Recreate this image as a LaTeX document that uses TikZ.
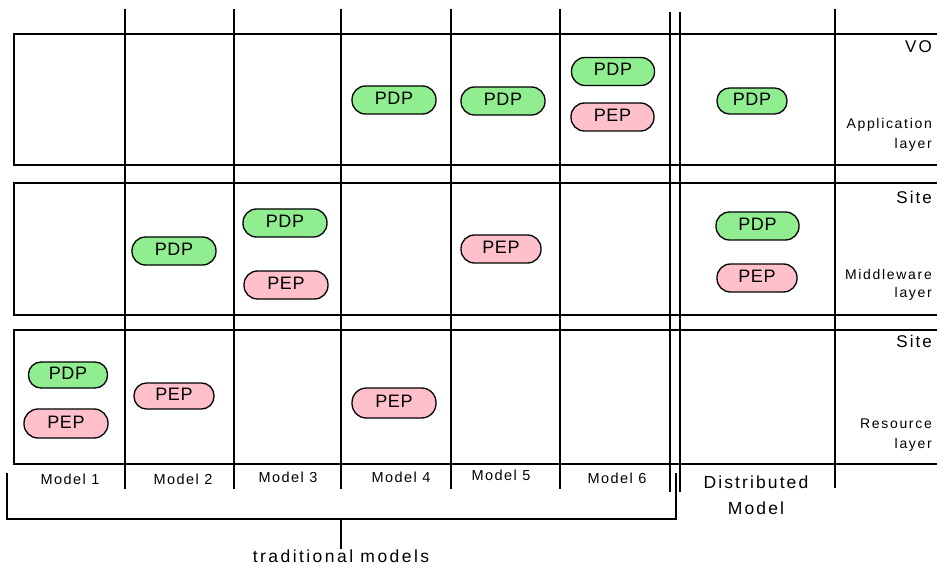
\documentclass[tikz,border=0pt]{standalone}
\usepackage{fontspec}
\setmainfont{Liberation Sans}
\definecolor{pdpgreen}{RGB}{144,238,144}
\definecolor{peppink}{RGB}{255,192,203}
\begin{document}
\begin{tikzpicture}[x=1pt,y=-1pt,
  vline/.style={line width=2pt},
  hline/.style={line width=2.3pt, line join=miter},
  bracket/.style={line width=2pt},
  pill/.style={draw, line width=1.3pt, rounded corners=13.5pt, minimum width=84pt, minimum height=28pt,
    inner sep=0pt, text height=13pt, text depth=4pt, font=\fontsize{18}{18}\selectfont\addfontfeature{LetterSpace=3}},
  pdp/.style={pill, fill=pdpgreen},
  pep/.style={pill, fill=peppink},
  small/.style={inner sep=0pt, font=\fontsize{14}{14}\selectfont\addfontfeature{LetterSpace=12}},
  big/.style={inner sep=0pt, font=\fontsize{17}{17}\selectfont\addfontfeature{LetterSpace=12}},
  model/.style={inner sep=0pt, font=\fontsize{14.5}{14.5}\selectfont\addfontfeature{LetterSpace=10}},
]
\useasboundingbox (0,0) rectangle (937,572);

% row boxes
\draw[hline] (937,34) -- (14,34) -- (14,165) -- (937,165);
\draw[hline] (937,183) -- (14,183) -- (14,315) -- (937,315);
\draw[hline] (937,330) -- (14,330) -- (14,464) -- (937,464);

% vertical column lines
\foreach \x in {125,234,341,451,560} \draw[vline] (\x,9) -- (\x,489);
\draw[vline] (670,12) -- (670,492);
\draw[vline] (680,12) -- (680,492);
\draw[vline] (835,9) -- (835,488);

% bracket
\coordinate (bl) at (7,473);
\coordinate (blc) at (7,519);
\coordinate (brc) at (676,519);
\coordinate (br) at (676,473);
\coordinate (bm) at (341,519);
\coordinate (bt) at (341,549);
\draw[bracket] (bl) -- (blc) -- (brc) -- (br);
\draw[bracket] (bm) -- (bt);
\node[big, anchor=north, font=\fontsize{17.5}{17.5}\selectfont\addfontfeature{LetterSpace=14}] (trad) at (341,550) {traditional models};

% row 1 : application layer
\node[pdp] (p4a) at (394,100) {PDP};
\node[pdp] (p5a) at (503,101) {PDP};
\node[pdp, minimum width=83pt] (p6a) at (613,71.5) {PDP};
\node[pep, minimum width=83pt] (e6a) at (612.5,117) {PEP};
\node[pdp, minimum width=70pt, minimum height=26pt, rounded corners=12.5pt] (pda) at (752,101) {PDP};

% row 2 : middleware layer
\node[pdp] (p2m) at (174,251) {PDP};
\node[pdp] (p3m) at (285,223) {PDP};
\node[pep] (e3m) at (286,285) {PEP};
\node[pep, minimum width=80pt] (e5m) at (501,249) {PEP};
\node[pdp, minimum width=83pt] (pdm) at (757.5,226) {PDP};
\node[pep, minimum width=80pt] (edm) at (757,278) {PEP};

% row 3 : resource layer
\node[pdp, minimum width=79pt, minimum height=26pt, rounded corners=12.5pt] (p1r) at (68,375) {PDP};
\node[pep, minimum height=29pt, rounded corners=14pt] (e1r) at (66,423.5) {PEP};
\node[pep, minimum width=80pt, minimum height=26pt, rounded corners=12.5pt] (e2r) at (174,396) {PEP};
\node[pep, minimum height=30pt, rounded corners=14.5pt] (e4r) at (394,403) {PEP};

% right labels
\node[big, anchor=east] (vo) at (932,47) {VO};
\node[small, anchor=east] (app) at (932,125) {Application};
\node[small, anchor=east] (appl) at (932,145) {layer};
\node[big, anchor=east] (site1) at (932,197) {Site};
\node[small, anchor=east] (mid) at (932,274) {Middleware};
\node[small, anchor=east] (midl) at (932,294) {layer};
\node[big, anchor=east] (site2) at (932,341) {Site};
\node[small, anchor=east] (res) at (932,424) {Resource};
\node[small, anchor=east] (resl) at (932,445) {layer};

% model labels
\node[model] (m1) at (70,479) {Model 1};
\node[model] (m2) at (183,479) {Model 2};
\node[model] (m3) at (288,477) {Model 3};
\node[model] (m4) at (401,477) {Model 4};
\node[model] (m5) at (501,475) {Model 5};
\node[model] (m6) at (617,478) {Model 6};
\node[big, font=\fontsize{17.5}{17.5}\selectfont\addfontfeature{LetterSpace=12}] (dist) at (756,482) {Distributed};
\node[big, font=\fontsize{17.5}{17.5}\selectfont\addfontfeature{LetterSpace=12}] (distm) at (756,508) {Model};
\end{tikzpicture}
\end{document}
